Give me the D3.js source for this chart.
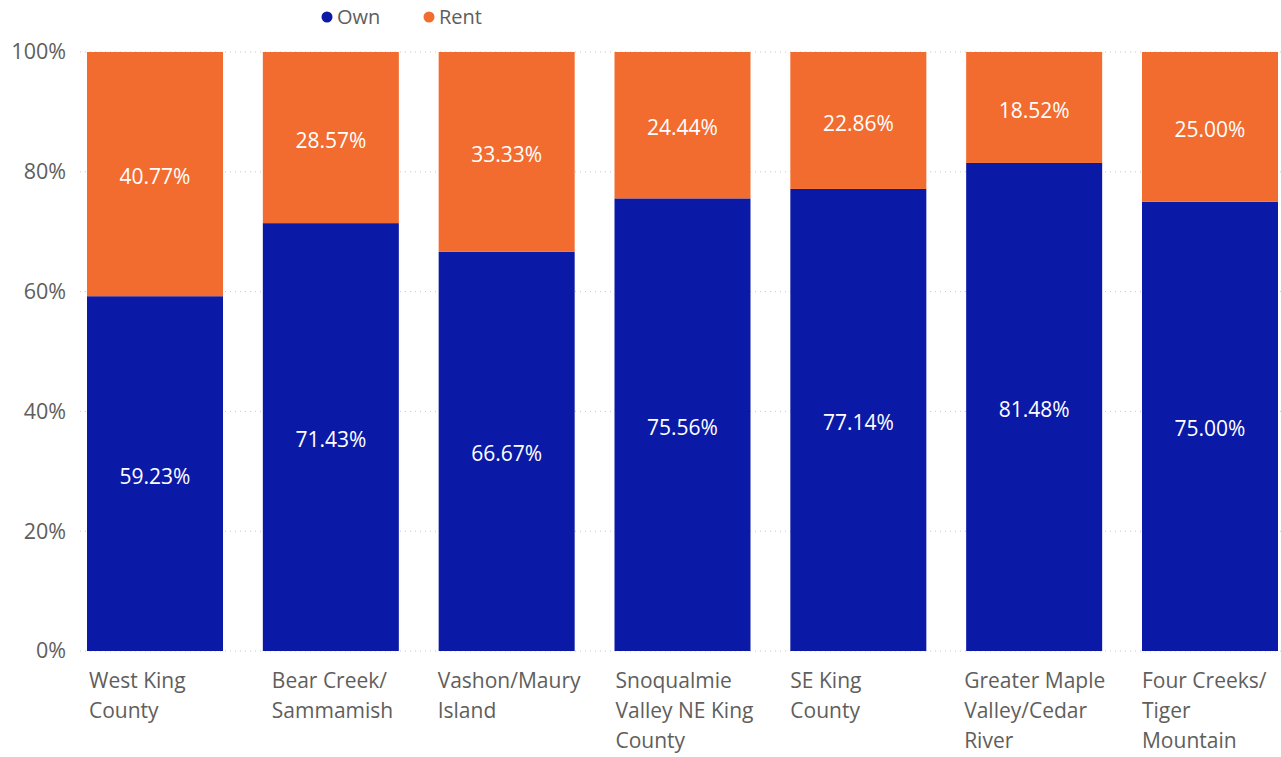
<!DOCTYPE html>
<html><head><meta charset="utf-8">
<script src="https://cdn.jsdelivr.net/npm/d3@7"></script>
<style>body{margin:0;background:#fff;} svg{display:block;font-family:"Segoe UI","Open Sans","Noto Sans",sans-serif;}</style>
</head><body>
<svg id="c" width="1281" height="757"></svg>
<script>
const categories = [
  ["West King", "County"],
  ["Bear Creek/", "Sammamish"],
  ["Vashon/Maury", "Island"],
  ["Snoqualmie", "Valley NE King", "County"],
  ["SE King", "County"],
  ["Greater Maple", "Valley/Cedar", "River"],
  ["Four Creeks/", "Tiger", "Mountain"]
];
const own = [59.23, 71.43, 66.67, 75.56, 77.14, 81.48, 75.00];
const rent = [40.77, 28.57, 33.33, 24.44, 22.86, 18.52, 25.00];
const seriesNames = ["Own", "Rent"];
const colors = ["#0B1AA6", "#F26B2F"];
const yTicks = [0, 20, 40, 60, 80, 100];
// small layout nudges for category label blocks (px from bar left)
const labelNudge = [2, 9, -1, 1, 0, -2, 0];

const svg = d3.select("#c");
const x = d3.scaleBand().domain(d3.range(categories.length)).range([87, 1278]).paddingInner(0.2265).paddingOuter(0);
const y = d3.scaleLinear().domain([0, 100]).range([651, 52]);
const textColor = "#605E5C";

// gridlines
svg.append("g").selectAll("line").data(yTicks).join("line")
  .attr("x1", 80).attr("x2", 1281)
  .attr("y1", d => y(d)).attr("y2", d => y(d))
  .attr("stroke", "#C8C8C8").attr("stroke-dasharray", "1,4").attr("stroke-width", 1);

// y axis
const yAxis = d3.axisLeft(y).tickValues(yTicks).tickFormat(d => d + "%").tickSize(0).tickPadding(0);
const ya = svg.append("g").attr("transform", "translate(66,0)").call(yAxis);
ya.select(".domain").remove();
ya.selectAll("text").attr("fill", textColor).attr("font-size", 21.5).attr("font-family", "'Segoe UI','Open Sans','Noto Sans',sans-serif");

const rows = categories.map((c, i) => ({i, own: own[i], rent: rent[i]}));
const stack = d3.stack().keys(["own", "rent"])(rows);

svg.append("g").selectAll("g").data(stack).join("g")
  .attr("fill", (d, k) => colors[k])
  .selectAll("rect").data(d => d).join("rect")
  .attr("x", d => x(d.data.i)).attr("width", x.bandwidth())
  .attr("y", d => y(d[1])).attr("height", d => y(d[0]) - y(d[1]));

// data labels
svg.append("g").selectAll("g").data(stack).join("g")
  .selectAll("text").data(d => d).join("text")
  .attr("x", d => x(d.data.i) + x.bandwidth() / 2)
  .attr("y", d => (y(d[0]) + y(d[1])) / 2)
  .attr("dy", "0.48em").attr("text-anchor", "middle")
  .attr("fill", "#fff").attr("font-size", 21)
  .text(d => (d[1] - d[0]).toFixed(2) + "%");

// x labels
const xl = svg.append("g").selectAll("text").data(categories).join("text")
  .attr("x", (d, i) => x(i) + labelNudge[i])
  .attr("y", 688)
  .attr("fill", textColor).attr("font-size", 21);
xl.selectAll("tspan").data(d => d).join("tspan")
  .attr("x", function() { return d3.select(this.parentNode).attr("x"); })
  .attr("dy", (d, j) => j === 0 ? 0 : 30)
  .text(d => d);

// legend
const legendX = [327, 429];
const lg = svg.append("g").selectAll("g").data(seriesNames).join("g")
  .attr("transform", (d, i) => `translate(${legendX[i]},17)`);
lg.append("circle").attr("r", 5.5).attr("fill", (d, i) => colors[i]);
lg.append("text").attr("x", 10).attr("dy", "0.35em").attr("fill", textColor).attr("font-size", 20).text(d => d);
</script>
</body></html>
